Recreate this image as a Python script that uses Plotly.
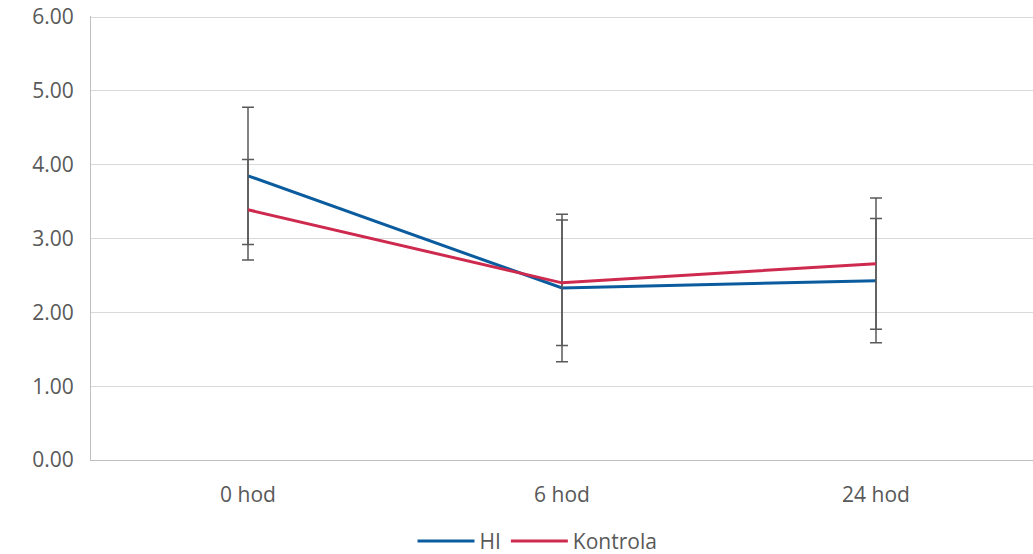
import plotly.graph_objects as go

categories = ["0 hod", "6 hod", "24 hod"]
hi_values = [3.85, 2.33, 2.43]
hi_errors = [0.93, 1.00, 0.84]
kontrola_values = [3.39, 2.40, 2.66]
kontrola_errors = [0.68, 0.85, 0.89]
y_ticks = [0, 1, 2, 3, 4, 5, 6]

FONT = "Open Sans"
TXT = "#595959"
FS = 21

fig = go.Figure()
fig.add_trace(go.Scatter(
    x=categories, y=hi_values, name="HI", mode="lines",
    line=dict(color="#0B5C9E", width=3),
    error_y=dict(type="data", array=hi_errors, visible=True,
                 color="#595959", thickness=1.5, width=6),
))
fig.add_trace(go.Scatter(
    x=categories, y=kontrola_values, name="Kontrola", mode="lines",
    line=dict(color="#CE2A4F", width=3),
    error_y=dict(type="data", array=kontrola_errors, visible=True,
                 color="#595959", thickness=1.5, width=6),
))

fig.update_layout(
    width=1033, height=554,
    margin=dict(l=91, r=0, t=16, b=94, autoexpand=False),
    paper_bgcolor="white", plot_bgcolor="white",
    font=dict(family=FONT, size=FS, color=TXT),
    showlegend=True,
    legend=dict(orientation="h", x=0.474, xanchor="center", y=-0.183, yanchor="middle",
                font=dict(family=FONT, size=FS, color=TXT), itemwidth=57,
                traceorder="normal"),
)
fig.update_xaxes(
    type="category", range=[-0.5, 2.5], automargin=False,
    showgrid=False, showline=True, linecolor="#BFBFBF", linewidth=1,
    ticks="", ticklabelstandoff=16, tickfont=dict(family=FONT, size=FS, color=TXT),
)
fig.update_yaxes(
    range=[0, 6.015], tickvals=y_ticks, tickformat=".2f", automargin=False,
    showgrid=True, gridcolor="#D9D9D9", gridwidth=1,
    showline=True, linecolor="#BFBFBF", linewidth=1,
    zeroline=False, ticks="", ticklabelstandoff=12,
    tickfont=dict(family=FONT, size=FS, color=TXT),
)

fig.write_html("out.html", config={"displayModeBar": False},
               post_script="document.body.style.margin='0';")
